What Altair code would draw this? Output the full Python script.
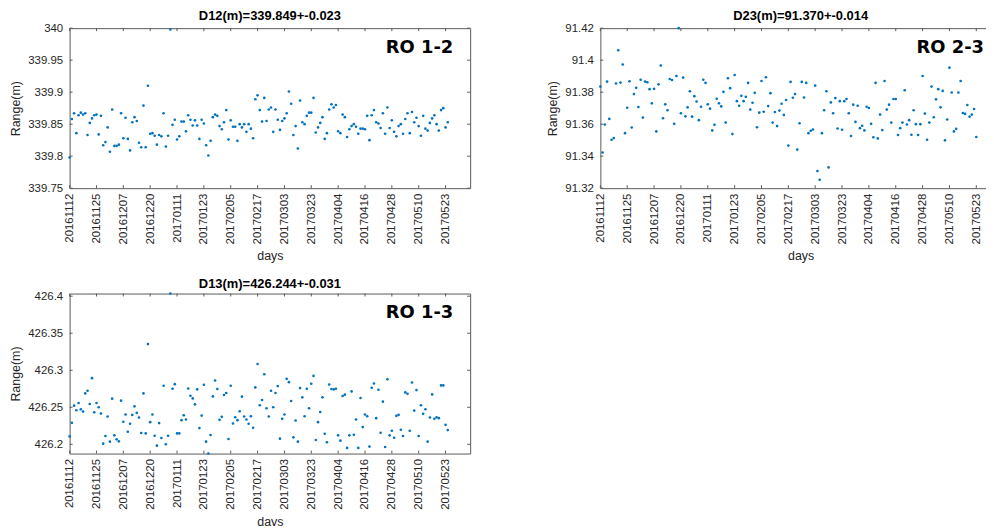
import altair as alt
import pandas as pd

# ---------------- data ----------------
tick_idx = [1, 13, 25, 37, 49, 61, 73, 85, 97, 109, 121, 133, 145, 157, 169]
tick_dates = ["20161112", "20161125", "20161207", "20161220", "20170111", "20170123",
              "20170205", "20170217", "20170303", "20170323", "20170404", "20170416",
              "20170428", "20170510", "20170523"]

d12 = [339.798, 339.858, 339.867, 339.836, 339.864, 339.868, 339.865, 339.867, 339.833, 339.852,
       339.859, 339.864, 339.865, 339.834, 339.863, 339.817, 339.822, 339.845, 339.807, 339.873,
       339.816, 339.816, 339.818, 339.867, 339.828, 339.860, 339.827, 339.809, 339.853, 339.861,
       339.855, 339.821, 339.814, 339.879, 339.814, 339.910, 339.835, 339.836, 339.832, 339.818,
       339.833, 339.831, 339.867, 339.815, 339.832, 339.998, 339.849, 339.857, 339.826, 339.831,
       339.854, 339.854, 339.839, 339.864, 339.857, 339.848, 339.856, 339.848, 339.827, 339.857,
       339.851, 339.817, 339.801, 339.824, 339.861, 339.865, 339.863, 339.847, 339.842, 339.853,
       339.872, 339.826, 339.856, 339.846, 339.846, 339.824, 339.850, 339.845, 339.850, 339.838,
       339.850, 339.843, 339.828, 339.889, 339.895, 339.872, 339.854, 339.891, 339.855, 339.873,
       339.876, 339.838, 339.873, 339.857, 339.841, 339.855, 339.859, 339.867, 339.901, 339.882,
       339.833, 339.847, 339.812, 339.887, 339.853, 339.850, 339.863, 339.868, 339.868, 339.891,
       339.837, 339.845, 339.852, 339.861, 339.827, 339.836, 339.873, 339.881, 339.876, 339.880,
       339.839, 339.836, 339.865, 339.861, 339.830, 339.842, 339.847, 339.850, 339.846, 339.835,
       339.843, 339.843, 339.842, 339.863, 339.825, 339.864, 339.872, 339.853, 339.851, 339.844,
       339.867, 339.835, 339.876, 339.844, 339.856, 339.838, 339.831, 339.847, 339.850, 339.835,
       339.858, 339.867, 339.836, 339.869, 339.853, 339.860, 339.847, 339.832, 339.863, 339.843,
       339.840, 339.852, 339.859, 339.864, 339.850, 339.840, 339.872, 339.875, 339.845, 339.853]

d23 = [91.3835, 91.3423, 91.3598, 91.3866, 91.3633, 91.3503, 91.3513, 91.3854, 91.4062, 91.3860,
       91.3973, 91.3544, 91.3703, 91.3868, 91.3579, 91.3788, 91.3827, 91.3707, 91.3878, 91.3641,
       91.3866, 91.3862, 91.3819, 91.3730, 91.3821, 91.3555, 91.3849, 91.3967, 91.3637, 91.3724,
       91.3687, 91.3882, 91.3876, 91.3602, 91.3901, 91.4200, 91.3668, 91.3891, 91.3649, 91.3705,
       91.3806, 91.3647, 91.3775, 91.3742, 91.3625, 91.3709, 91.3878, 91.3858, 91.3724, 91.3697,
       91.3561, 91.3596, 91.3759, 91.3730, 91.3711, 91.3802, 91.3610, 91.3887, 91.3825, 91.3538,
       91.3907, 91.3744, 91.3715, 91.3777, 91.3744, 91.3771, 91.3858, 91.3691, 91.3734, 91.3796,
       91.3581, 91.3672, 91.3870, 91.3678, 91.3893, 91.3713, 91.3794, 91.3610, 91.3676, 91.3588,
       91.3685, 91.3728, 91.3658, 91.3751, 91.3466, 91.3864, 91.3765, 91.3788, 91.3441, 91.3606,
       91.3864, 91.3767, 91.3858, 91.3544, 91.3559, 91.3567, 91.3841, 91.3307, 91.3252, 91.3544,
       91.3687, 91.3806, 91.3330, 91.3736, 91.3668, 91.3763, 91.3573, 91.3744, 91.3565, 91.3744,
       91.3757, 91.3668, 91.3526, 91.3722, 91.3614, 91.3715, 91.3575, 91.3590, 91.3561, 91.3709,
       91.3701, 91.3602, 91.3518, 91.3858, 91.3511, 91.3660, 91.3563, 91.3870, 91.3691, 91.3722,
       91.3610, 91.3757, 91.3757, 91.3532, 91.3575, 91.3610, 91.3812, 91.3598, 91.3625, 91.3534,
       91.3687, 91.3600, 91.3532, 91.3600, 91.3901, 91.3666, 91.3503, 91.3610, 91.3835, 91.3643,
       91.3755, 91.3819, 91.3705, 91.3808, 91.3499, 91.3629, 91.3953, 91.3798, 91.3555, 91.3571,
       91.3798, 91.3870, 91.3670, 91.3664, 91.3720, 91.3647, 91.3660, 91.3695, 91.3520]

d13 = [426.2107, 426.2290, 426.2522, 426.2460, 426.2558, 426.2473, 426.2442, 426.2687, 426.2723, 426.2545,
       426.2893, 426.2433, 426.2558, 426.2500, 426.2415, 426.2009, 426.2112, 426.2375, 426.2036, 426.2616,
       426.2121, 426.2067, 426.2040, 426.2589, 426.2304, 426.2402, 426.2170, 426.2277, 426.2397, 426.2513,
       426.2424, 426.2362, 426.2152, 426.2687, 426.2147, 426.3353, 426.2299, 426.2402, 426.2116, 426.1982,
       426.2286, 426.2085, 426.2790, 426.2000, 426.2116, 426.4036, 426.2750, 426.2812, 426.2147, 426.2147,
       426.2326, 426.2393, 426.2335, 426.2754, 426.2656, 426.2620, 426.2540, 426.2741, 426.2219, 426.2388,
       426.2804, 426.2036, 426.1875, 426.2125, 426.2647, 426.2862, 426.2746, 426.2330, 426.2371, 426.2665,
       426.2692, 426.2071, 426.2790, 426.2281, 426.2366, 426.2326, 426.2446, 426.2643, 426.2375, 426.2335,
       426.2277, 426.2379, 426.2223, 426.2768, 426.3085, 426.2527, 426.2598, 426.2946, 426.2487, 426.2375,
       426.2723, 426.2500, 426.2692, 426.2786, 426.2076, 426.2344, 426.2402, 426.2884, 426.2839, 426.2585,
       426.2094, 426.2321, 426.2036, 426.2759, 426.2634, 426.2379, 426.2750, 426.2487, 426.2817, 426.2924,
       426.2058, 426.2299, 426.2437, 426.2634, 426.2143, 426.2027, 426.2808, 426.2746, 426.2741, 426.2750,
       426.2121, 426.2049, 426.2652, 426.2670, 426.1951, 426.2121, 426.2714, 426.2129, 426.2335, 426.1951,
       426.2625, 426.2232, 426.2402, 426.2379, 426.1969, 426.2763, 426.2821, 426.2353, 426.2737, 426.2156,
       426.2576, 426.1964, 426.2879, 426.2121, 426.2183, 426.2089, 426.2384, 426.2397, 426.2196, 426.2112,
       426.2701, 426.2683, 426.2183, 426.2835, 426.2455, 426.2732, 426.2112, 426.2527, 426.2411, 426.2473,
       426.2036, 426.2362, 426.2674, 426.2344, 426.2366, 426.2353, 426.2795, 426.2795, 426.2263, 426.2192]

y12_ticks = [339.75, 339.8, 339.85, 339.9, 339.95, 340.0]
y23_ticks = [91.32, 91.34, 91.36, 91.38, 91.40, 91.42]
y13_ticks = [426.2, 426.25, 426.3, 426.35, 426.4]

# ---------------- style ----------------
W, H = 403, 161
TL = 3
AX = "#262626"
BORDER = "#5a5a5a"
BLUE = "#0072BD"
FONT = "Liberation Sans"

label_expr = "[" + ",".join("'%s'" % d for d in tick_dates) + "][round((datum.value - 1) / 12)]"


def panel(vals, ydom, yticks, title, tag, width=W):
    df = pd.DataFrame({"idx": list(range(1, len(vals) + 1)), "v": vals})
    xt = pd.DataFrame({"idx": tick_idx})
    yt = pd.DataFrame({"v": yticks})
    xs = alt.Scale(domain=[1, 180], nice=False, zero=False)
    ys = alt.Scale(domain=ydom, nice=False, zero=False)
    xax = alt.Axis(values=tick_idx, labelExpr=label_expr, labelAngle=-90,
                   ticks=False, tickSize=0, domain=False, grid=False, labelPadding=5,
                   titlePadding=6, labelFlush=False, labelFontSize=11.5)
    yax = alt.Axis(values=yticks, format=".2~f", ticks=False, tickSize=0, domain=False,
                   grid=False, labelPadding=7, titlePadding=5.5, labelFontSize=11.5)
    X = alt.X("idx:Q", scale=xs, title="days", axis=xax)
    Y = alt.Y("v:Q", scale=ys, title="Range(m)", axis=yax)

    pts = alt.Chart(df).mark_circle(size=7, color=BLUE, opacity=1).encode(x=X, y=Y)
    bt = alt.Chart(xt).mark_rule(color=BORDER, strokeWidth=1).encode(
        x=X, y=alt.value(H), y2=alt.value(H - TL))
    tt = alt.Chart(xt).mark_rule(color=BORDER, strokeWidth=1).encode(
        x=X, y=alt.value(0), y2=alt.value(TL))
    lt = alt.Chart(yt).mark_rule(color=BORDER, strokeWidth=1).encode(
        y=Y, x=alt.value(0), x2=alt.value(TL))
    rt = alt.Chart(yt).mark_rule(color=BORDER, strokeWidth=1).encode(
        y=Y, x=alt.value(width), x2=alt.value(width - TL))
    txt = alt.Chart(pd.DataFrame({"t": [tag]})).mark_text(
        font="DejaVu Sans", fontSize=18, fontWeight="bold", color="black",
        align="right", baseline="middle").encode(
        text="t:N", x=alt.value(width - 17), y=alt.value(20))
    return alt.layer(pts, bt, tt, lt, rt, txt).properties(
        width=width, height=H,
        title=alt.TitleParams(title, frame="group", offset=4, dy=5))


p1 = panel(d12, [339.75, 340.0], y12_ticks, "D12(m)=339.849+-0.023", "RO 1-2")
p2 = panel(d23, [91.32, 91.42], y23_ticks, "D23(m)=91.370+-0.014", "RO 2-3")
p3 = panel(d13, [426.1875, 426.4036], y13_ticks, "D13(m)=426.244+-0.031", "RO 1-3")

# the page is cut at its right and bottom edges, as in the reference
SVG_W, SVG_H = 984, 518
PL, PT = 62, 18.7

top = alt.hconcat(p1, p2, spacing=75)
chart = alt.vconcat(top, p3, spacing=14).properties(
    autosize=alt.AutoSizeParams(type="none"),
    padding={"left": PL, "top": PT, "right": SVG_W - PL, "bottom": SVG_H - PT}
).configure_view(
    stroke=BORDER, strokeWidth=1
).configure_axis(
    labelFont=FONT, titleFont=FONT, titleFontSize=12.5,
    labelColor=AX, titleColor=AX, titleFontWeight="normal"
).configure_title(
    font=FONT, fontSize=13, fontWeight="bold", color="black", anchor="middle"
)

chart.save("out.html", embed_options={"renderer": "svg", "actions": False})
